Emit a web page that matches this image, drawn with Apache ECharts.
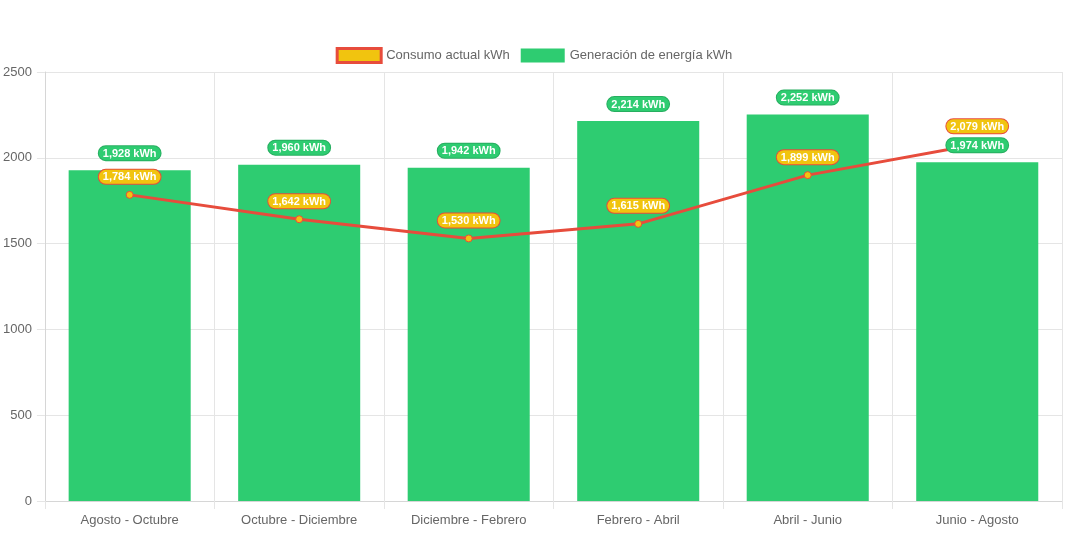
<!DOCTYPE html>
<html>
<head>
<meta charset="utf-8">
<script src="https://cdn.jsdelivr.net/npm/echarts@6/dist/echarts.min.js"></script>
<style>
html,body{margin:0;padding:0;background:#fff;}
#chart{width:1068px;height:533px;}
</style>
</head>
<body>
<div id="chart"></div>
<script>
var categories = ['Agosto - Octubre','Octubre - Diciembre','Diciembre - Febrero','Febrero - Abril','Abril - Junio','Junio - Agosto'];
var consumo = [1784, 1642, 1530, 1615, 1899, 2079];
var generacion = [1928, 1960, 1942, 2214, 2252, 1974];
var yTicks = [0, 500, 1000, 1500, 2000, 2500];

var FONT = 'Liberation Sans, Arial, Helvetica, sans-serif';
function fmt(v){ return v.toLocaleString('en-US') + ' kWh'; }

var labelBase = {
  show:true,
  position:'top',
  formatter:function(p){return fmt(p.value);},
  color:'#fff',
  fontWeight:'bold',
  fontSize:11,
  fontFamily:FONT,
  borderWidth:1,
  borderRadius:8,
  padding:[2,4,1,4]
};

var chart = echarts.init(document.getElementById('chart'), null, {renderer:'canvas'});
chart.setOption({
  animation:false,
  textStyle:{fontFamily:FONT},
  legend:{
    top:42,
    left:'center',
    itemWidth:44,
    itemHeight:14,
    itemGap:11,
    textStyle:{color:'#666',fontSize:13,fontFamily:FONT},
    data:[
      {name:'Consumo actual kWh', icon:'rect', itemStyle:{color:'#f1c40f',borderColor:'#e74c3c',borderWidth:3}},
      {name:'Generación de energía kWh', icon:'rect', itemStyle:{color:'#2ecc71'}}
    ]
  },
  grid:{left:44,right:6,top:72,bottom:32,containLabel:false},
  xAxis:{
    type:'category',
    data:categories,
    boundaryGap:true,
    axisLine:{show:true,lineStyle:{color:'#d6d6d6'}},
    axisTick:{show:true,length:8,lineStyle:{color:'#e5e5e5'}},
    axisLabel:{color:'#666',fontSize:13,fontFamily:FONT,margin:13},
    splitLine:{show:true,interval:0,lineStyle:{color:'#e5e5e5'}}
  },
  yAxis:{
    type:'value',
    min:yTicks[0],
    max:yTicks[yTicks.length-1],
    interval:500,
    axisLine:{show:true,lineStyle:{color:'#d6d6d6'}},
    axisTick:{show:true,length:8,lineStyle:{color:'#e5e5e5'}},
    axisLabel:{color:'#666',fontSize:13,fontFamily:FONT,margin:13,formatter:function(v){return String(v);}},
    splitLine:{show:true,lineStyle:{color:'#e5e5e5'}}
  },
  series:[
    {
      name:'Generación de energía kWh',
      type:'bar',
      data:generacion,
      z:2,
      barWidth:'72%',
      itemStyle:{color:'#2ecc71'},
      label:{show:false}
    },
    {
      name:'Consumo actual kWh',
      type:'line',
      data:consumo,
      z:10,
      symbol:'circle',
      symbolSize:7,
      lineStyle:{color:'#e74c3c',width:3},
      itemStyle:{color:'#f1c40f',borderColor:'#e74c3c',borderWidth:1},
      label:Object.assign({}, labelBase, {distance:7, backgroundColor:'#f1c40f', borderColor:'#e74c3c'})
    },
    {
      name:'GeneracionLabels',
      type:'bar',
      data:generacion,
      z:20,
      barWidth:'72%',
      barGap:'-100%',
      silent:true,
      itemStyle:{color:'rgba(0,0,0,0)'},
      label:Object.assign({}, labelBase, {distance:10, backgroundColor:'#2ecc71', borderColor:'#27ae60'})
    }
  ]
});
</script>
</body>
</html>
